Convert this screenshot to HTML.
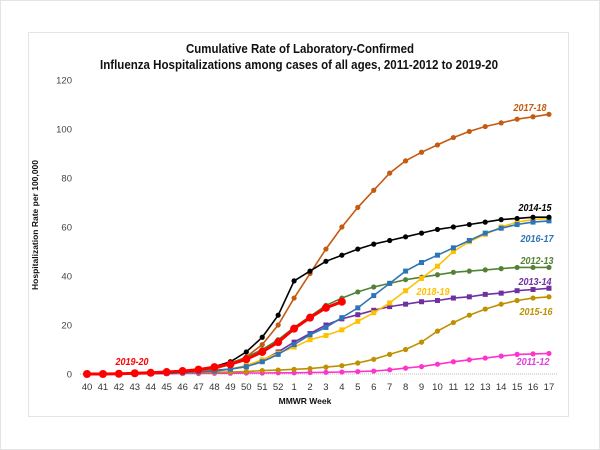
<!DOCTYPE html>
<html><head><meta charset="utf-8"><style>
html,body{margin:0;padding:0;background:#fff;}
svg{display:block;font-family:"Liberation Sans",Arial,sans-serif;}
</style></head><body>
<svg id="s" width="600" height="450" xmlns="http://www.w3.org/2000/svg">
<rect x="0.5" y="0.5" width="599" height="449" fill="#fff" stroke="#c8c8c8" stroke-dasharray="1,1"/>
<rect x="28.5" y="32.5" width="540" height="384" fill="#fff" stroke="#c8c8c8" stroke-dasharray="1,1"/>
<text x="300" y="53" text-anchor="middle" font-size="12.5" font-weight="bold" fill="#111" textLength="228" lengthAdjust="spacingAndGlyphs">Cumulative Rate of Laboratory-Confirmed</text>
<text x="299" y="69" text-anchor="middle" font-size="12.5" font-weight="bold" fill="#111" textLength="398" lengthAdjust="spacingAndGlyphs">Influenza Hospitalizations among cases of all ages, 2011-2012 to 2019-20</text>
<text x="38" y="225" transform="rotate(-90 38 225)" text-anchor="middle" font-size="8.5" font-weight="bold" fill="#111">Hospitalization  Rate per 100,000</text>
<text x="305" y="404" text-anchor="middle" font-size="8.5" font-weight="bold" fill="#111">MMWR Week</text>
<line x1="80" y1="374" x2="558" y2="374" stroke="#bbb" stroke-dasharray="1,1"/>
<g id="g"></g>
</svg>
<script>
var g=document.getElementById('g'),h='';
function X(i){return 87+i*15.93;}function Y(v){return 374-v*2.45;}
for(var v=0;v<=120;v+=20)h+='<text x="72" y="'+(Y(v)+3.5)+'" text-anchor="end" font-size="9.5" fill="#444">'+v+'</text>';
var wk=[];for(var i=40;i<=52;i++)wk.push(i);for(i=1;i<=17;i++)wk.push(i);
wk.forEach(function(w,i){h+='<text x="'+X(i)+'" y="390" text-anchor="middle" font-size="9.5" fill="#333">'+w+'</text>';});
var S=[
['#FF33CC','c',[0,0,0,0,0.1,0.1,0.2,0.2,0.3,0.3,0.4,0.4,0.5,0.5,0.6,0.7,0.8,1,1.2,1.7,2.4,3,4,5,5.8,6.5,7.3,8,8.2,8.4]],
['#BF9000','c',[0,0.1,0.1,0.2,0.3,0.4,0.5,0.6,0.7,0.8,1,1.4,1.6,1.9,2.2,2.8,3.4,4.5,6,8,10,13,17.5,21,24,26.5,28.5,30,31,31.5]],
['#7030A0','s',[0,0,0.1,0.2,0.3,0.5,0.7,1,1.5,2,3,5.5,9,13,16.5,20,22.5,24.2,26,27.5,28.5,29.5,30,31,31.5,32.5,33,34,34.5,35]],
['#548235','c',[0,0,0.1,0.2,0.4,0.7,1.1,1.7,2.8,4.5,6.8,10,14,19,23.5,28,31,33.5,35.5,37,38.5,39.5,40.5,41.5,42,42.5,43,43.5,43.5,43.5]],
['#FFC000','x',[0,0,0,0.1,0.2,0.3,0.5,0.8,1.2,2,3.5,5.8,8.5,11,14,15.7,18,21.5,25,29,34,39,44,50,54,57,60,62,63,63.5]],
['#2E75B6','s',[0,0,0,0.1,0.2,0.3,0.5,0.8,1.2,2,3,5,8,12,16,19,23,27,32,37,42,45.5,48.5,51.5,54.5,57.5,59.5,61,62,62.5]],
['#C55A11','c',[0,0,0.1,0.2,0.3,0.5,0.8,1.2,2,4,7,12,20,31,41,51,60,68,75,82,87,90.5,93.5,96.5,99,101,102.5,104,105,106]],
['#000000','c',[0,0,0.1,0.2,0.3,0.5,0.8,1.5,3,5,9,15,24,38,42,46,48.5,51,53,54.5,56,57.5,59,60,61,62,63,63.5,64,64]],
['#FF0000','C',[0,0,0.1,0.3,0.5,0.8,1.2,1.8,2.8,4,6,9,13,18.5,23,27,29.5]]
];
S.forEach(function(s){var p=s[2].map(function(v,i){return X(i).toFixed(1)+','+Y(v).toFixed(1);});
var big=s[1]=='C';
h+='<polyline points="'+p.join(' ')+'" fill="none" stroke="'+s[0]+'" stroke-width="'+(big?3:1.6)+'"/>';
s[2].forEach(function(v,i){var x=X(i),y=Y(v);
if(s[1]=='s'||s[1]=='x')h+='<rect x="'+(x-2.5)+'" y="'+(y-2.5)+'" width="5" height="5" fill="'+s[0]+'"/>';
else h+='<circle cx="'+x+'" cy="'+y+'" r="'+(big?4:2.6)+'" fill="'+s[0]+'"/>';});});
var L=[['2017-18','#C55A11',530,111],['2014-15','#000',535,211],['2016-17','#2E75B6',537,242],['2012-13','#548235',537,264],['2018-19','#FFC000',433,295],['2013-14','#7030A0',535,285],['2015-16','#BF9000',536,315],['2011-12','#E040E0',533,365],['2019-20','#FF0000',132,365]];
L.forEach(function(l){h+='<text x="'+l[2]+'" y="'+l[3]+'" text-anchor="middle" font-size="10.5" font-weight="bold" font-style="italic" fill="'+l[1]+'" textLength="33" lengthAdjust="spacingAndGlyphs">'+l[0]+'</text>';});
g.innerHTML=h;
</script>
</body></html>
